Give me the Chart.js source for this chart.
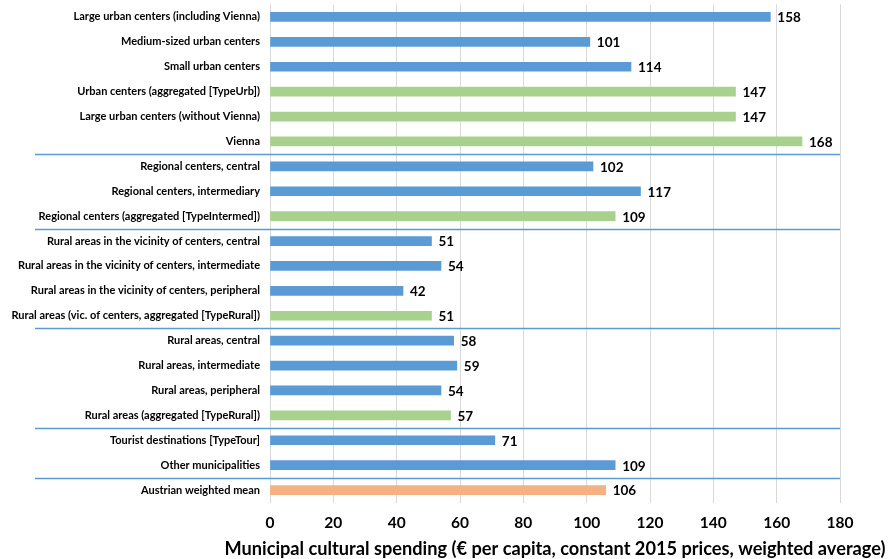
<!DOCTYPE html>
<html><head><meta charset="utf-8">
<script src="https://cdn.jsdelivr.net/npm/chart.js@4"></script>
<style>html,body{margin:0;padding:0;background:#fff}#wrap{width:896px;height:559px}</style>
</head><body><div id="wrap"><canvas id="c" width="896" height="559"></canvas></div>
<script>
const categories = [
 "Large urban centers (including Vienna)",
 "Medium-sized urban centers",
 "Small urban centers",
 "Urban centers (aggregated [TypeUrb])",
 "Large urban centers (without Vienna)",
 "Vienna",
 "Regional centers, central",
 "Regional centers, intermediary",
 "Regional centers (aggregated [TypeIntermed])",
 "Rural areas in the vicinity of centers, central",
 "Rural areas in the vicinity of centers, intermediate",
 "Rural areas in the vicinity of centers, peripheral",
 "Rural areas (vic. of centers, aggregated [TypeRural])",
 "Rural areas, central",
 "Rural areas, intermediate",
 "Rural areas, peripheral",
 "Rural areas (aggregated [TypeRural])",
 "Tourist destinations [TypeTour]",
 "Other municipalities",
 "Austrian weighted mean"
];
const spending = [158,101,114,147,147,168,102,117,109,51,54,42,51,58,59,54,57,71,109,106];
const barKind = ["d","d","d","a","a","a","d","d","a","d","d","d","a","d","d","d","a","d","d","m"];
const groupEndsAfter = [5,8,12,16,18];
const xTicks = [0,20,40,60,80,100,120,140,160,180];
const axisTitle = "Municipal cultural spending (€ per capita, constant 2015 prices, weighted average)";

const kindColor = {d:"#5B9BD5", a:"#A9D18E", m:"#F4B183"};
const FONT = "Lato, 'Liberation Sans', sans-serif";

const extras = {
  id: "extras",
  afterDatasetsDraw(chart) {
    const ctx = chart.ctx, y = chart.scales.y, meta = chart.getDatasetMeta(0);
    ctx.save();
    ctx.strokeStyle = "#5B9BD5"; ctx.lineWidth = 1.3;
    groupEndsAfter.forEach(i => {
      const py = Math.round((y.getPixelForValue(i) + y.getPixelForValue(i+1)) / 2) + 0.5;
      ctx.beginPath(); ctx.moveTo(35, py); ctx.lineTo(chart.chartArea.right, py); ctx.stroke();
    });
    ctx.fillStyle = "#000"; ctx.font = "bold 13.5px " + FONT; ctx.textBaseline = "middle"; ctx.textAlign = "left";
    meta.data.forEach((bar, i) => { ctx.fillText(String(spending[i]), bar.x + 7, bar.y + 1); });
    ctx.font = "bold 18.2px " + FONT; ctx.textAlign = "center";
    ctx.fillText(axisTitle, 555, 549);
    ctx.restore();
  }
};

new Chart(document.getElementById("c"), {
  type: "bar",
  data: { labels: categories, datasets: [{ data: spending, backgroundColor: barKind.map(k => kindColor[k]), barThickness: 9 }] },
  options: {
    indexAxis: "y", responsive: false, animation: false,
    layout: { padding: { top: 4.5, right: 56, bottom: 0, left: 0 } },
    plugins: { legend: { display: false }, tooltip: { enabled: false } },
    scales: {
      x: {
        min: 0, max: 180,
        afterBuildTicks(s) { s.ticks = xTicks.map(v => ({ value: v })); },
        grid: { color: "#D9D9D9", lineWidth: 1, drawTicks: false },
        border: { display: false },
        ticks: { color: "#000", font: { family: FONT, size: 15.5, weight: "bold" }, padding: 11 },
        title: { display: false },
        afterFit(s) { s.height = 56.5; }
      },
      y: {
        grid: { display: false, drawTicks: false },
        border: { display: true, color: "#D9D9D9", width: 1 },
        ticks: { color: "#000", font: { family: FONT, size: 11, weight: "bold" }, padding: 10, autoSkip: false },
        afterFit(s) { s.width = 270; s.paddingTop = 0; s.paddingBottom = 0; }
      }
    }
  },
  plugins: [extras]
});
</script></body></html>
